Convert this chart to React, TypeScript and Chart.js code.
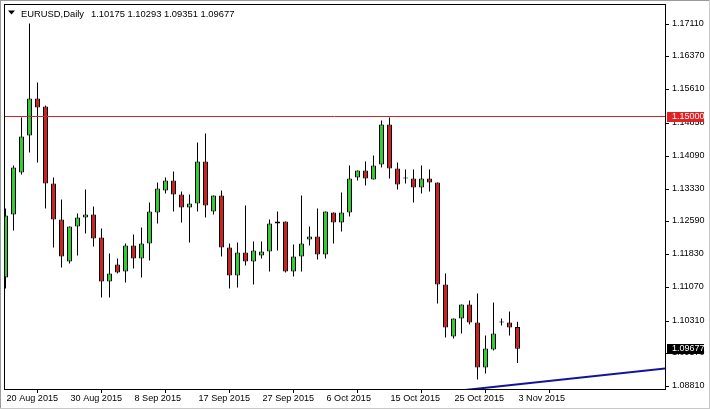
import React, { useEffect, useRef } from 'react';
import { Chart, registerables } from 'chart.js';

Chart.register(...registerables);

// ---- data ----
const symbolName = 'EURUSD';
const timeframeName = 'Daily';

const dates = [
  '20 Aug 2015', '21 Aug 2015', '23 Aug 2015', '24 Aug 2015', '25 Aug 2015', '26 Aug 2015', '27 Aug 2015', '28 Aug 2015',
  '30 Aug 2015', '31 Aug 2015', '1 Sep 2015', '2 Sep 2015', '3 Sep 2015', '4 Sep 2015', '6 Sep 2015', '7 Sep 2015',
  '8 Sep 2015', '9 Sep 2015', '10 Sep 2015', '11 Sep 2015', '13 Sep 2015', '14 Sep 2015', '15 Sep 2015', '16 Sep 2015',
  '17 Sep 2015', '18 Sep 2015', '20 Sep 2015', '21 Sep 2015', '22 Sep 2015', '23 Sep 2015', '24 Sep 2015', '25 Sep 2015',
  '27 Sep 2015', '28 Sep 2015', '29 Sep 2015', '30 Sep 2015', '1 Oct 2015', '2 Oct 2015', '4 Oct 2015', '5 Oct 2015',
  '6 Oct 2015', '7 Oct 2015', '8 Oct 2015', '9 Oct 2015', '11 Oct 2015', '12 Oct 2015', '13 Oct 2015', '14 Oct 2015',
  '15 Oct 2015', '16 Oct 2015', '18 Oct 2015', '19 Oct 2015', '20 Oct 2015', '21 Oct 2015', '22 Oct 2015', '23 Oct 2015',
  '25 Oct 2015', '26 Oct 2015', '27 Oct 2015', '28 Oct 2015', '29 Oct 2015', '30 Oct 2015', '1 Nov 2015', '2 Nov 2015',
  '3 Nov 2015',
];

const openPrices = [
  1.11309, 1.12753, 1.13716, 1.14564, 1.15413, 1.15229, 1.13464, 1.12639,
  1.11676, 1.12478, 1.12685, 1.12753, 1.12226, 1.11217, 1.11607, 1.11447,
  1.12043, 1.11745, 1.12089, 1.12799, 1.13304, 1.13533, 1.13212, 1.12914,
  1.13006, 1.13968, 1.12822, 1.13189, 1.11997, 1.11355, 1.11882, 1.11676,
  1.11813, 1.11905, 1.12547, 1.12593, 1.11447, 1.11790, 1.12180, 1.12249,
  1.11836, 1.12799, 1.12570, 1.12799, 1.13602, 1.13762, 1.13556, 1.13900,
  1.14817, 1.13808, 1.13579, 1.13579, 1.13372, 1.13579, 1.13487, 1.11149,
  1.09957, 1.10369, 1.10690, 1.10277, 1.09246, 1.09659, 1.10277, 1.10277,
  1.10175,
];
const highPrices = [
  1.12891, 1.13877, 1.14977, 1.17132, 1.15779, 1.15250, 1.13602, 1.13097,
  1.12478, 1.12776, 1.13326, 1.12937, 1.12432, 1.11859, 1.11745, 1.12089,
  1.12295, 1.12455, 1.13028, 1.13487, 1.13602, 1.13739, 1.13281, 1.13212,
  1.14404, 1.14610, 1.13189, 1.13304, 1.12089, 1.12111, 1.12960, 1.12134,
  1.12134, 1.12639, 1.12822, 1.12593, 1.12066, 1.13189, 1.12478, 1.12891,
  1.12822, 1.12799, 1.13258, 1.13877, 1.13762, 1.13968, 1.14106, 1.14908,
  1.14977, 1.13945, 1.13785, 1.13785, 1.13877, 1.13785, 1.13487, 1.11401,
  1.10369, 1.10690, 1.10782, 1.10942, 1.09979, 1.10736, 1.10369, 1.10530,
  1.10293,
];
const lowPrices = [
  1.11057, 1.12387, 1.13670, 1.14175, 1.13945, 1.12891, 1.11997, 1.11538,
  1.11630, 1.11813, 1.12318, 1.12020, 1.10851, 1.10851, 1.11401, 1.11194,
  1.11515, 1.11309, 1.11699, 1.12547, 1.13235, 1.12822, 1.12570, 1.12111,
  1.12822, 1.12685, 1.12753, 1.11790, 1.11057, 1.11080, 1.11584, 1.11149,
  1.11745, 1.11447, 1.11928, 1.11424, 1.11332, 1.11447, 1.12043, 1.11722,
  1.11745, 1.12089, 1.12364, 1.12708, 1.13533, 1.13418, 1.13556, 1.13831,
  1.13579, 1.13326, 1.13464, 1.13028, 1.13235, 1.13281, 1.10713, 1.09934,
  1.09911, 1.10025, 1.10232, 1.08971, 1.09108, 1.09636, 1.10209, 1.09979,
  1.09351,
];
const closePrices = [
  1.12730, 1.13831, 1.14542, 1.15413, 1.15206, 1.13464, 1.12639, 1.11790,
  1.12478, 1.12685, 1.12753, 1.12203, 1.11217, 1.11401, 1.11424, 1.12043,
  1.11745, 1.12089, 1.12822, 1.13349, 1.13533, 1.13212, 1.12914, 1.13006,
  1.13968, 1.12960, 1.13189, 1.11997, 1.11355, 1.11882, 1.11676, 1.11928,
  1.11905, 1.12547, 1.12593, 1.11447, 1.11790, 1.12089, 1.12249, 1.11836,
  1.12822, 1.12570, 1.12799, 1.13579, 1.13762, 1.13579, 1.13877, 1.14817,
  1.13808, 1.13441, 1.13579, 1.13372, 1.13579, 1.13487, 1.11149, 1.10163,
  1.10369, 1.10690, 1.10277, 1.09246, 1.09681, 1.10025, 1.10277, 1.10163,
  1.09677,
];

const priceTicks = [1.1711, 1.1637, 1.1561, 1.1485, 1.1409, 1.1333, 1.1259, 1.1183, 1.1107, 1.1031, 1.0957, 1.0881];
const dateTickBars = [0, 8, 16, 24, 32, 40, 48, 56, 64];

const resistanceLevel = 1.15;
const trendLine = [
  { x: 40, y: 1.08388 },
  { x: 84, y: 1.09251 },
];

// visible window
const barMin = -0.1875;
const barMax = 82.4375;
const priceMin = 1.087529;
const priceMax = 1.175791;

// ---- styles ----
const BULL = '#32CD32';
const BEAR = '#CC2222';
const FONT = "'Liberation Sans', Arial, sans-serif";

const App = () => {
  const canvasRef = useRef<HTMLCanvasElement | null>(null);

  useEffect(() => {
    document.body.style.margin = '0';
    const canvas = canvasRef.current;
    if (!canvas) return;

    const bodies = closePrices.map((c, i) => ({ x: i, y: [openPrices[i], c] }));
    const wicks = highPrices.map((h, i) => ({ x: i, y: [lowPrices[i], h] }));
    const bodyColors = closePrices.map((c, i) =>
      c > openPrices[i] ? BULL : c < openPrices[i] ? BEAR : '#000000'
    );

    const last = closePrices.length - 1;

    const overlay = {
      id: 'mt4Overlay',
      afterDatasetsDraw(chart: any) {
        const { ctx, chartArea } = chart;
        ctx.save();
        ctx.strokeStyle = '#000';
        ctx.lineWidth = 1;
        ctx.beginPath();
        ctx.moveTo(chartArea.left + 0.5, chartArea.top);
        ctx.lineTo(chartArea.left + 0.5, chartArea.bottom + 1);
        ctx.moveTo(chartArea.left, chartArea.top + 0.5);
        ctx.lineTo(chartArea.right + 1, chartArea.top + 0.5);
        ctx.moveTo(chartArea.right + 0.5, chartArea.top);
        ctx.lineTo(chartArea.right + 0.5, chartArea.bottom + 1);
        ctx.moveTo(chartArea.left, chartArea.bottom + 0.5);
        ctx.lineTo(chartArea.right + 1, chartArea.bottom + 0.5);
        ctx.stroke();
        ctx.restore();
      },
      afterDraw(chart: any) {
        const { ctx } = chart;
        const yScale = chart.scales.y;
        ctx.save();

        // price boxes
        const box = (value: number, bg: string) => {
          const py = yScale.getPixelForValue(value);
          const top = Math.round(py - 5);
          ctx.fillStyle = bg;
          ctx.fillRect(667, top, 37, 10);
          ctx.fillStyle = '#ffffff';
          ctx.font = `9px ${FONT}`;
          ctx.textBaseline = 'middle';
          ctx.textAlign = 'left';
          ctx.fillText(value.toFixed(5), 672, top + 5);
        };
        box(resistanceLevel, '#E02222');
        box(closePrices[last], '#000000');

        // title
        ctx.fillStyle = '#000';
        ctx.beginPath();
        ctx.moveTo(8, 10.5);
        ctx.lineTo(15, 10.5);
        ctx.lineTo(11.5, 14.5);
        ctx.closePath();
        ctx.fill();
        ctx.font = `9.4px ${FONT}`;
        ctx.textBaseline = 'alphabetic';
        ctx.textAlign = 'left';
        ctx.fillText(`${symbolName},${timeframeName}`, 21, 16.5);
        ctx.fillText(
          [openPrices[last], highPrices[last], lowPrices[last], closePrices[last]].map((v) => v.toFixed(5)).join(' '),
          91,
          16.5
        );

        // window border
        ctx.lineWidth = 1;
        ctx.strokeStyle = '#9a9a9a';
        ctx.beginPath();
        ctx.moveTo(0.5, 0);
        ctx.lineTo(0.5, 409);
        ctx.moveTo(0, 0.5);
        ctx.lineTo(710, 0.5);
        ctx.stroke();
        ctx.strokeStyle = '#c8c8c8';
        ctx.beginPath();
        ctx.moveTo(709.5, 0);
        ctx.lineTo(709.5, 409);
        ctx.moveTo(0, 408.5);
        ctx.lineTo(710, 408.5);
        ctx.stroke();
        ctx.restore();
      },
    };

    const chart = new Chart(canvas, {
      type: 'bar',
      data: {
        datasets: [
          {
            type: 'line',
            data: [
              { x: barMin, y: resistanceLevel },
              { x: barMax, y: resistanceLevel },
            ],
            borderColor: '#CC2828',
            borderWidth: 1,
            pointRadius: 0,
            order: -2,
            clip: 0,
          } as any,
          {
            type: 'line',
            data: trendLine,
            borderColor: '#14149A',
            borderWidth: 2,
            pointRadius: 0,
            order: -1,
            clip: 0,
          } as any,
          {
            data: bodies,
            backgroundColor: bodyColors,
            borderColor: '#000000',
            borderWidth: 1,
            borderSkipped: false,
            barThickness: 5,
            minBarLength: 1,
            grouped: false,
            inflateAmount: 0,
            order: 0,
            clip: 0,
          } as any,
          {
            data: wicks,
            backgroundColor: '#000000',
            borderWidth: 0,
            barThickness: 1,
            grouped: false,
            inflateAmount: 0,
            order: 1,
            clip: 0,
          } as any,
        ],
      },
      options: {
        responsive: false,
        devicePixelRatio: 1,
        animation: false,
        events: [],
        layout: { padding: { top: 4, left: 4, right: 0, bottom: 0 } },
        plugins: {
          legend: { display: false },
          tooltip: { enabled: false },
          title: { display: false },
        },
        scales: {
          x: {
            type: 'linear',
            min: barMin,
            max: barMax,
            offset: false,
            bounds: 'data',
            afterBuildTicks: (s: any) => {
              s.ticks = dateTickBars.map((v) => ({ value: v }));
            },
            afterFit: (s: any) => {
              s.height = 20;
              s.paddingLeft = 0;
              s.paddingRight = 0;
              s.paddingTop = 0;
              s.paddingBottom = 0;
            },
            grid: { drawOnChartArea: false, drawTicks: true, tickLength: 4, color: '#000' },
            border: { display: false },
            ticks: {
              align: 'start',
              labelOffset: 1,
              padding: 0,
              maxRotation: 0,
              minRotation: 0,
              autoSkip: false,
              color: '#000',
              font: { family: FONT, size: 9.1 },
              callback: (v: any) => dates[Math.round(Number(v))] ?? '',
            },
          },
          y: {
            type: 'linear',
            position: 'right',
            min: priceMin,
            max: priceMax,
            bounds: 'data',
            afterBuildTicks: (s: any) => {
              s.ticks = priceTicks.map((v) => ({ value: v }));
            },
            afterFit: (s: any) => {
              s.width = 45;
              s.paddingLeft = 0;
              s.paddingRight = 0;
              s.paddingTop = 0;
              s.paddingBottom = 0;
            },
            grid: { drawOnChartArea: false, drawTicks: true, tickLength: 4, color: '#000' },
            border: { display: false },
            ticks: {
              padding: 3,
              labelOffset: -1,
              autoSkip: false,
              color: '#000',
              font: { family: FONT, size: 9 },
              callback: (v: any) => Number(v).toFixed(5),
            },
          },
        },
      } as any,
      plugins: [overlay],
    });

    return () => chart.destroy();
  }, []);

  return (
    <div style={{ position: 'fixed', left: 0, top: 0, width: 710, height: 409, background: '#ffffff' }}>
      <canvas ref={canvasRef} width={710} height={409} style={{ display: 'block' }} />
    </div>
  );
};

export default App;
